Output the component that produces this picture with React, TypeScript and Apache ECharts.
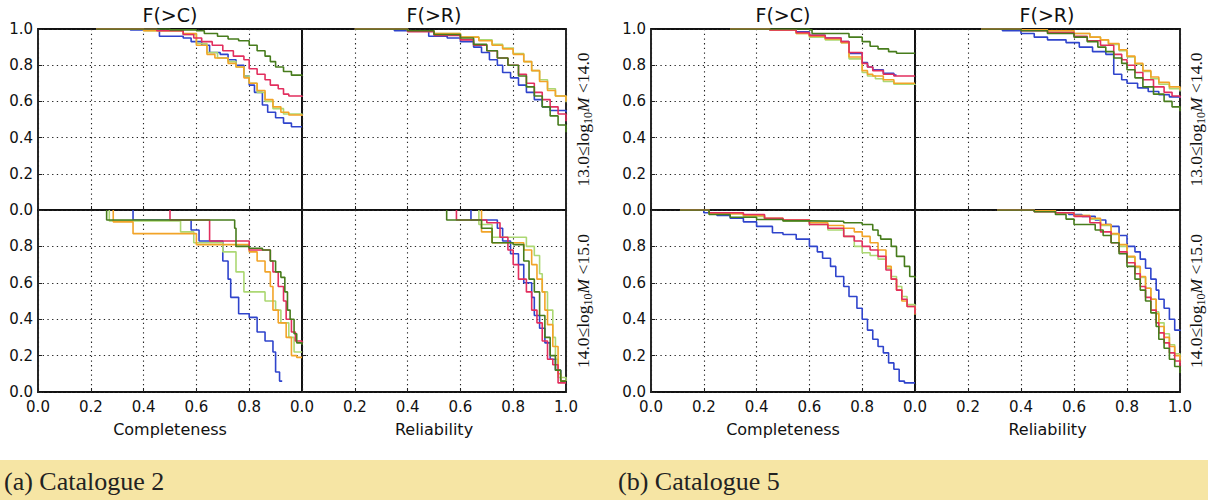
import React, { useEffect, useRef } from "react";
import * as echarts from "echarts";

// Colours of the five catalogue variants
const COLORS = {
  blue: "#2f44cc",
  lightgreen: "#acd873",
  orange: "#f2a428",
  red: "#e22e5e",
  green: "#477c1c",
};

const xTicks = [0, 0.2, 0.4, 0.6, 0.8, 1.0];
const panelTitles = ["F(>C)", "F(>R)"];
const xNames = ["Completeness", "Reliability"];
const captions = ["(a) Catalogue 2", "(b) Catalogue 5"];
const massBins = [
  { lo: "13.0", hi: "14.0" },
  { lo: "14.0", hi: "15.0" },
];

// ---- Catalogue 2, 13<logM<14, F(>C)
const A1_blue = [[0.22,1],[0.35,0.995],[0.46,0.96],[0.55,0.95],[0.58,0.93],[0.62,0.91],[0.65,0.87],[0.69,0.86],[0.72,0.83],[0.75,0.8],[0.78,0.74],[0.8,0.69],[0.82,0.65],[0.85,0.58],[0.87,0.54],[0.9,0.51],[0.93,0.48],[0.96,0.46],[1.0,0.46]];
const A1_lightgreen = [[0.22,1],[0.4,0.99],[0.55,0.97],[0.6,0.92],[0.64,0.87],[0.68,0.84],[0.72,0.82],[0.75,0.79],[0.78,0.74],[0.8,0.7],[0.83,0.65],[0.86,0.6],[0.89,0.56],[0.93,0.53],[1.0,0.525]];
const A1_orange = [[0.22,1],[0.4,0.99],[0.55,0.975],[0.6,0.91],[0.64,0.86],[0.67,0.84],[0.72,0.81],[0.75,0.79],[0.78,0.73],[0.8,0.7],[0.83,0.66],[0.86,0.61],[0.89,0.57],[0.92,0.54],[0.95,0.525],[1.0,0.52]];
const A1_red = [[0.22,1],[0.45,0.99],[0.55,0.97],[0.59,0.95],[0.62,0.93],[0.66,0.91],[0.7,0.88],[0.74,0.85],[0.78,0.83],[0.8,0.78],[0.83,0.75],[0.86,0.72],[0.88,0.69],[0.91,0.67],[0.93,0.64],[0.95,0.63],[1.0,0.625]];
const A1_green = [[0.22,1],[0.5,0.995],[0.6,0.99],[0.63,0.975],[0.68,0.96],[0.72,0.945],[0.76,0.935],[0.8,0.91],[0.83,0.88],[0.86,0.85],[0.88,0.82],[0.9,0.79],[0.93,0.765],[0.96,0.745],[1.0,0.74]];

// ---- Catalogue 2, 13<logM<14, F(>R)
const A2_blue = [[0.2,1],[0.35,0.99],[0.48,0.96],[0.55,0.95],[0.6,0.93],[0.65,0.9],[0.68,0.87],[0.71,0.83],[0.74,0.8],[0.76,0.76],[0.79,0.73],[0.82,0.69],[0.85,0.65],[0.88,0.61],[0.91,0.57],[0.94,0.55],[1.0,0.54]];
const A2_lightgreen = [[0.2,1],[0.4,0.99],[0.5,0.975],[0.6,0.955],[0.67,0.94],[0.72,0.915],[0.76,0.895],[0.8,0.865],[0.84,0.82],[0.87,0.77],[0.9,0.72],[0.93,0.67],[0.96,0.63],[1.0,0.595]];
const A2_orange = [[0.2,1],[0.4,0.99],[0.5,0.975],[0.6,0.955],[0.67,0.935],[0.72,0.91],[0.76,0.89],[0.8,0.86],[0.84,0.82],[0.87,0.77],[0.9,0.71],[0.93,0.66],[0.96,0.63],[1.0,0.6]];
const A2_red = [[0.2,1],[0.4,0.985],[0.5,0.965],[0.6,0.94],[0.65,0.91],[0.7,0.88],[0.74,0.84],[0.78,0.8],[0.82,0.75],[0.85,0.7],[0.88,0.65],[0.91,0.61],[0.94,0.57],[0.97,0.53],[1.0,0.49]];
const A2_green = [[0.2,1],[0.4,0.99],[0.5,0.97],[0.6,0.95],[0.65,0.915],[0.7,0.88],[0.74,0.84],[0.78,0.8],[0.82,0.74],[0.85,0.68],[0.88,0.63],[0.91,0.57],[0.94,0.52],[0.97,0.47],[1.0,0.43]];

// ---- Catalogue 2, 14<logM<15, F(>C)
const A3_blue = [[0.36,1],[0.36,0.945],[0.58,0.89],[0.61,0.83],[0.7,0.72],[0.72,0.62],[0.73,0.52],[0.76,0.43],[0.8,0.41],[0.83,0.33],[0.86,0.28],[0.89,0.22],[0.9,0.11],[0.915,0.06],[0.925,0.06]];
const A3_lightgreen = [[0.27,1],[0.27,0.94],[0.54,0.88],[0.59,0.82],[0.7,0.77],[0.75,0.66],[0.78,0.55],[0.86,0.5],[0.9,0.45],[0.92,0.38],[0.95,0.3],[0.97,0.22],[1.0,0.22]];
const A3_orange = [[0.285,1],[0.285,0.935],[0.36,0.87],[0.6,0.81],[0.8,0.77],[0.83,0.72],[0.86,0.66],[0.88,0.58],[0.89,0.45],[0.91,0.38],[0.94,0.3],[0.96,0.2],[0.98,0.19],[1.0,0.19]];
const A3_red = [[0.5,1],[0.5,0.945],[0.65,0.83],[0.8,0.78],[0.88,0.72],[0.89,0.66],[0.91,0.58],[0.93,0.5],[0.94,0.4],[0.96,0.33],[0.975,0.28],[1.0,0.27]];
const A3_green = [[0.26,1],[0.26,0.945],[0.745,0.9],[0.75,0.8],[0.8,0.79],[0.85,0.78],[0.88,0.72],[0.9,0.66],[0.92,0.63],[0.935,0.55],[0.945,0.45],[0.955,0.4],[0.97,0.32],[0.98,0.27],[1.0,0.26]];

// ---- Catalogue 2, 14<logM<15, F(>R)
const A4_blue = [[0.64,1],[0.64,0.945],[0.74,0.9],[0.76,0.83],[0.79,0.76],[0.82,0.7],[0.84,0.6],[0.87,0.52],[0.88,0.42],[0.9,0.35],[0.92,0.27],[0.94,0.18],[0.96,0.12],[0.98,0.06],[1.0,0.06]];
const A4_lightgreen = [[0.67,1],[0.67,0.92],[0.72,0.85],[0.85,0.8],[0.88,0.75],[0.9,0.65],[0.91,0.55],[0.93,0.45],[0.95,0.3],[0.96,0.18],[0.97,0.08],[1.0,0.06]];
const A4_orange = [[0.68,1],[0.68,0.88],[0.72,0.82],[0.84,0.78],[0.87,0.7],[0.89,0.62],[0.91,0.55],[0.92,0.45],[0.93,0.37],[0.95,0.25],[0.97,0.1],[0.98,0.06],[1.0,0.06]];
const A4_red = [[0.585,1],[0.585,0.945],[0.7,0.93],[0.75,0.85],[0.78,0.78],[0.8,0.7],[0.82,0.62],[0.85,0.55],[0.87,0.45],[0.89,0.38],[0.91,0.28],[0.93,0.18],[0.95,0.15],[0.97,0.05],[1.0,0.05]];
const A4_green = [[0.548,1],[0.548,0.945],[0.68,0.9],[0.72,0.82],[0.8,0.81],[0.84,0.72],[0.86,0.62],[0.88,0.55],[0.9,0.42],[0.92,0.3],[0.94,0.2],[0.96,0.12],[0.98,0.06],[1.0,0.06]];

// ---- Catalogue 5, 13<logM<14, F(>C)
const B1_blue = [[0.3,1],[0.45,0.995],[0.55,0.985],[0.6,0.965],[0.66,0.95],[0.72,0.93],[0.75,0.865],[0.8,0.815],[0.82,0.79],[0.84,0.775],[0.88,0.755],[0.92,0.745],[0.93,0.745]];
const B1_lightgreen = [[0.3,1],[0.45,0.995],[0.55,0.975],[0.6,0.955],[0.66,0.94],[0.72,0.925],[0.75,0.835],[0.8,0.76],[0.82,0.74],[0.85,0.725],[0.88,0.71],[0.92,0.695],[1.0,0.69]];
const B1_orange = [[0.3,1],[0.45,0.995],[0.55,0.975],[0.6,0.96],[0.66,0.945],[0.72,0.925],[0.75,0.845],[0.8,0.77],[0.82,0.75],[0.84,0.74],[0.88,0.72],[0.92,0.7],[1.0,0.7]];
const B1_red = [[0.3,1],[0.45,0.995],[0.55,0.98],[0.6,0.965],[0.66,0.95],[0.72,0.93],[0.75,0.87],[0.8,0.81],[0.82,0.79],[0.84,0.77],[0.88,0.75],[0.92,0.74],[1.0,0.74]];
const B1_green = [[0.3,1],[0.6,0.995],[0.61,0.975],[0.75,0.955],[0.8,0.93],[0.83,0.905],[0.86,0.89],[0.9,0.875],[0.93,0.866],[1.0,0.866]];

// ---- Catalogue 5, 13<logM<14, F(>R)
const B2_blue = [[0.25,1],[0.33,0.99],[0.4,0.975],[0.45,0.955],[0.5,0.94],[0.57,0.925],[0.62,0.9],[0.67,0.875],[0.72,0.86],[0.75,0.75],[0.78,0.72],[0.8,0.7],[0.84,0.675],[0.88,0.655],[0.92,0.637],[0.96,0.625],[1.0,0.619]];
const B2_lightgreen = [[0.25,1],[0.4,0.995],[0.5,0.99],[0.6,0.975],[0.66,0.955],[0.7,0.94],[0.73,0.915],[0.77,0.88],[0.8,0.845],[0.83,0.805],[0.86,0.765],[0.89,0.725],[0.92,0.695],[0.96,0.67],[1.0,0.655]];
const B2_orange = [[0.25,1],[0.4,0.995],[0.5,0.99],[0.6,0.975],[0.66,0.955],[0.7,0.94],[0.73,0.92],[0.77,0.885],[0.8,0.85],[0.83,0.81],[0.86,0.77],[0.89,0.735],[0.92,0.705],[0.96,0.68],[1.0,0.665]];
const B2_red = [[0.25,1],[0.4,0.99],[0.5,0.98],[0.6,0.96],[0.65,0.935],[0.7,0.91],[0.75,0.86],[0.78,0.83],[0.8,0.8],[0.83,0.76],[0.86,0.72],[0.9,0.68],[0.94,0.65],[0.97,0.63],[1.0,0.62]];
const B2_green = [[0.25,1],[0.4,0.99],[0.5,0.975],[0.6,0.955],[0.65,0.93],[0.69,0.9],[0.72,0.875],[0.75,0.84],[0.78,0.81],[0.8,0.775],[0.83,0.73],[0.86,0.68],[0.9,0.64],[0.94,0.6],[0.97,0.57],[1.0,0.545]];

// ---- Catalogue 5, 14<logM<15, F(>C)
const B3_blue = [[0.11,1],[0.2,0.985],[0.25,0.97],[0.3,0.955],[0.35,0.935],[0.4,0.91],[0.46,0.875],[0.5,0.865],[0.55,0.84],[0.6,0.8],[0.63,0.77],[0.65,0.735],[0.68,0.69],[0.7,0.635],[0.73,0.58],[0.75,0.525],[0.78,0.46],[0.8,0.4],[0.82,0.34],[0.84,0.29],[0.86,0.25],[0.88,0.215],[0.9,0.16],[0.92,0.125],[0.94,0.06],[0.96,0.05],[1.0,0.05]];
const B3_lightgreen = [[0.11,1],[0.22,0.98],[0.35,0.965],[0.43,0.95],[0.5,0.94],[0.6,0.92],[0.67,0.89],[0.73,0.855],[0.77,0.8],[0.8,0.765],[0.83,0.75],[0.86,0.73],[0.89,0.68],[0.91,0.635],[0.93,0.58],[0.95,0.525],[0.97,0.48],[1.0,0.45]];
const B3_orange = [[0.11,1],[0.22,0.98],[0.35,0.97],[0.43,0.955],[0.5,0.945],[0.6,0.93],[0.67,0.915],[0.73,0.9],[0.77,0.88],[0.8,0.855],[0.83,0.82],[0.86,0.78],[0.89,0.69],[0.91,0.62],[0.93,0.56],[0.95,0.5],[0.97,0.47],[1.0,0.425]];
const B3_red = [[0.11,1],[0.22,0.985],[0.35,0.975],[0.43,0.955],[0.5,0.945],[0.6,0.92],[0.67,0.9],[0.73,0.855],[0.77,0.83],[0.8,0.8],[0.83,0.78],[0.86,0.745],[0.89,0.67],[0.91,0.62],[0.93,0.56],[0.95,0.51],[0.97,0.47],[1.0,0.43]];
const B3_green = [[0.11,1],[0.22,0.975],[0.3,0.96],[0.4,0.948],[0.5,0.94],[0.6,0.938],[0.73,0.93],[0.8,0.92],[0.84,0.89],[0.86,0.86],[0.87,0.84],[0.91,0.8],[0.93,0.745],[0.96,0.69],[0.98,0.635],[1.0,0.625]];

// ---- Catalogue 5, 14<logM<15, F(>R)
const B4_blue = [[0.31,1],[0.45,0.995],[0.53,0.985],[0.58,0.975],[0.63,0.965],[0.68,0.945],[0.72,0.92],[0.74,0.91],[0.77,0.86],[0.8,0.8],[0.83,0.77],[0.85,0.73],[0.87,0.68],[0.89,0.62],[0.91,0.56],[0.92,0.51],[0.94,0.46],[0.96,0.4],[0.98,0.34],[1.0,0.335]];
const B4_lightgreen = [[0.31,1],[0.45,0.995],[0.53,0.985],[0.6,0.97],[0.66,0.95],[0.7,0.915],[0.74,0.865],[0.77,0.8],[0.8,0.74],[0.83,0.685],[0.85,0.63],[0.87,0.57],[0.89,0.51],[0.91,0.44],[0.92,0.38],[0.94,0.32],[0.96,0.26],[0.98,0.21],[1.0,0.18]];
const B4_orange = [[0.31,1],[0.45,0.995],[0.53,0.985],[0.6,0.97],[0.66,0.955],[0.7,0.92],[0.74,0.87],[0.77,0.81],[0.8,0.745],[0.83,0.69],[0.85,0.635],[0.87,0.57],[0.89,0.51],[0.91,0.43],[0.92,0.36],[0.94,0.3],[0.96,0.25],[0.98,0.2],[1.0,0.16]];
const B4_red = [[0.31,1],[0.45,0.99],[0.53,0.985],[0.6,0.965],[0.66,0.93],[0.7,0.88],[0.74,0.82],[0.77,0.77],[0.8,0.71],[0.83,0.65],[0.85,0.58],[0.87,0.52],[0.89,0.45],[0.91,0.38],[0.92,0.325],[0.94,0.27],[0.96,0.215],[0.98,0.17],[1.0,0.14]];
const B4_green = [[0.31,1],[0.45,0.99],[0.53,0.975],[0.57,0.95],[0.6,0.92],[0.68,0.89],[0.71,0.86],[0.74,0.82],[0.77,0.76],[0.8,0.69],[0.83,0.62],[0.85,0.56],[0.87,0.5],[0.89,0.435],[0.91,0.36],[0.92,0.29],[0.94,0.24],[0.96,0.18],[0.98,0.14],[1.0,0.105]];

const PANEL_SERIES = [
  { blue: A1_blue, lightgreen: A1_lightgreen, orange: A1_orange, red: A1_red, green: A1_green },
  { blue: A2_blue, lightgreen: A2_lightgreen, orange: A2_orange, red: A2_red, green: A2_green },
  { blue: A3_blue, lightgreen: A3_lightgreen, orange: A3_orange, red: A3_red, green: A3_green },
  { blue: A4_blue, lightgreen: A4_lightgreen, orange: A4_orange, red: A4_red, green: A4_green },
  { blue: B1_blue, lightgreen: B1_lightgreen, orange: B1_orange, red: B1_red, green: B1_green },
  { blue: B2_blue, lightgreen: B2_lightgreen, orange: B2_orange, red: B2_red, green: B2_green },
  { blue: B3_blue, lightgreen: B3_lightgreen, orange: B3_orange, red: B3_red, green: B3_green },
  { blue: B4_blue, lightgreen: B4_lightgreen, orange: B4_orange, red: B4_red, green: B4_green },
];
const SERIES_ORDER = ["blue", "lightgreen", "orange", "red", "green"];

const FIG_LEFT = [38, 651];
const PANEL_W = 264;
const ROW_TOP = [29, 210];
const ROW_H = [181, 182];

const SANS = "'DejaVu Sans', 'Bitstream Vera Sans', sans-serif";
const SERIF = "'Liberation Serif', 'Times New Roman', serif";

export default function App() {
  const ref = useRef<HTMLDivElement>(null);

  useEffect(() => {
    document.body.style.margin = "0";
    if (!ref.current) return;
    const chart = echarts.init(ref.current, undefined, { renderer: "svg" });

    const grids: any[] = [];
    const xAxes: any[] = [];
    const yAxes: any[] = [];
    const series: any[] = [];
    const graphics: any[] = [];

    const panels: { fig: number; col: number; row: number }[] = [];
    for (let fig = 0; fig < 2; fig++)
      for (let row = 0; row < 2; row++)
        for (let col = 0; col < 2; col++) panels.push({ fig, col, row });

    const grid = { type: [1.3, 3.4], color: "#222", width: 1.1 };

    panels.forEach((p, i) => {
      const left = FIG_LEFT[p.fig] + p.col * PANEL_W;
      const top = ROW_TOP[p.row];
      const h = ROW_H[p.row];
      grids.push({
        left,
        top,
        width: PANEL_W + (p.col === 1 && p.fig === 1 ? 1 : 0),
        height: h,
        show: true,
        borderColor: "#111",
        borderWidth: 1.8,
        backgroundColor: "transparent",
        containLabel: false,
      });
      const bottom = p.row === 1;
      xAxes.push({
        type: "value",
        gridIndex: i,
        min: 0,
        max: 1,
        interval: 0.2,
        axisLine: { show: false },
        axisTick: { show: true, inside: true, length: 4, lineStyle: { color: "#222", width: 1 } },
        splitLine: { show: true, lineStyle: grid },
        axisLabel: {
          show: bottom,
          formatter: (v: number) => v.toFixed(1),
          fontSize: 15,
          fontFamily: SANS,
          color: "#111",
          margin: 7,
          showMaxLabel: p.col === 1,
        },
        name: bottom ? xNames[p.col] : "",
        nameLocation: "middle",
        nameGap: 29,
        nameTextStyle: { fontSize: 16, fontFamily: SANS, color: "#111" },
      });
      yAxes.push({
        type: "value",
        gridIndex: i,
        min: 0,
        max: 1,
        interval: 0.2,
        axisLine: { show: false },
        axisTick: { show: true, inside: true, length: 4, lineStyle: { color: "#222", width: 1 } },
        splitLine: { show: true, lineStyle: grid },
        axisLabel: {
          show: p.col === 0,
          formatter: (v: number) => v.toFixed(1),
          fontSize: 15,
          fontFamily: SANS,
          color: "#111",
          margin: 5,
          showMaxLabel: p.row === 0,
        },
      });
      const data = PANEL_SERIES[i] as any;
      SERIES_ORDER.forEach((key, k) => {
        series.push({
          type: "line",
          xAxisIndex: i,
          yAxisIndex: i,
          data: data[key],
          step: "end",
          showSymbol: false,
          symbol: "none",
          z: 2 + k,
          lineStyle: { width: 1.6, color: (COLORS as any)[key] },
          itemStyle: { color: (COLORS as any)[key] },
        });
      });

      if (p.row === 0) {
        graphics.push({
          type: "text",
          x: left + PANEL_W / 2,
          y: 15,
          style: {
            text: panelTitles[p.col],
            fontSize: 19,
            fontFamily: SANS,
            fill: "#111",
            textAlign: "center",
            textVerticalAlign: "middle",
          },
        });
      }
      if (p.col === 1) {
        const mb = massBins[p.row];
        graphics.push({
          type: "text",
          x: left + PANEL_W + 17,
          y: top + h / 2,
          rotation: Math.PI / 2,
          style: {
            text: `{n|${mb.lo}≤log}{s|10}{i|M}{n| <${mb.hi}}`,
            textAlign: "center",
            textVerticalAlign: "middle",
            fill: "#111",
            rich: {
              n: { fontSize: 17.5, fontFamily: SERIF, fill: "#111", lineHeight: 22, verticalAlign: "middle" },
              s: { fontSize: 12, fontFamily: SERIF, fill: "#111", lineHeight: 22, verticalAlign: "bottom", padding: [7, 0, 0, 0] },
              i: { fontSize: 17.5, fontFamily: SERIF, fontStyle: "italic", fill: "#111", lineHeight: 22, verticalAlign: "middle" },
            },
          },
        });
      }
    });

    // caption band
    graphics.push({
      type: "rect",
      shape: { x: 0, y: 460, width: 1208, height: 40 },
      style: { fill: "#f6e5a4" },
      z: -1,
    });
    captions.forEach((c, j) => {
      graphics.push({
        type: "text",
        x: j === 0 ? 4 : 618,
        y: 481,
        style: {
          text: c,
          fontSize: 26,
          fontFamily: SERIF,
          fill: "#222",
          textAlign: "left",
          textVerticalAlign: "middle",
        },
      });
    });

    chart.setOption({
      animation: false,
      backgroundColor: "#ffffff",
      grid: grids,
      xAxis: xAxes,
      yAxis: yAxes,
      series,
      graphic: { elements: graphics },
    });

    return () => chart.dispose();
  }, []);

  return <div ref={ref} style={{ width: 1208, height: 500 }} />;
}
